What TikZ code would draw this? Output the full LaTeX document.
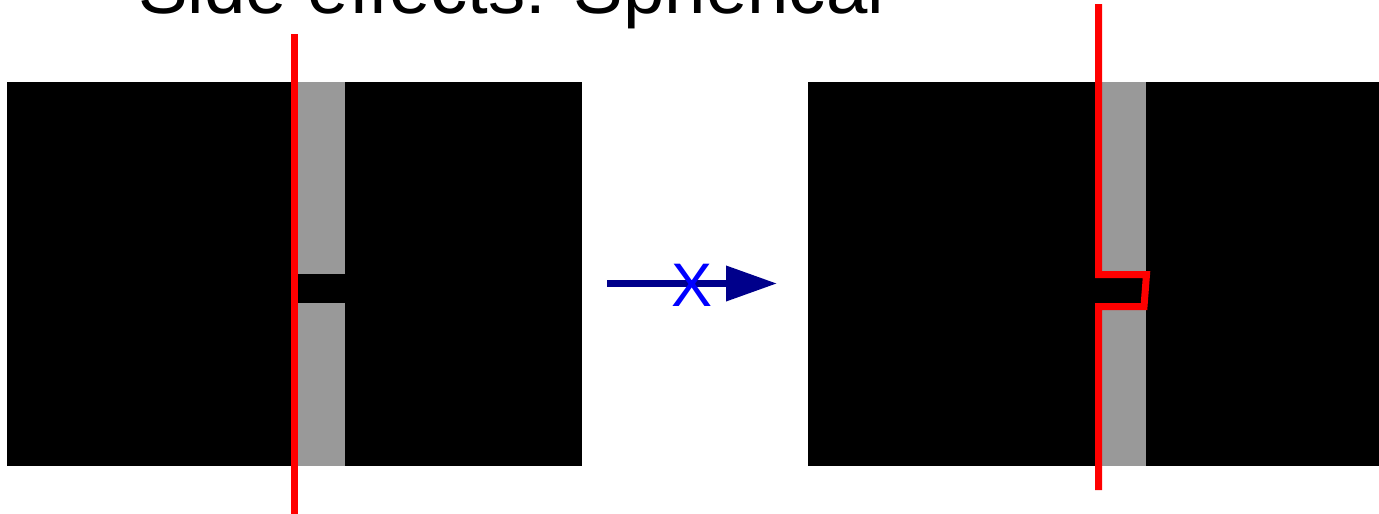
\documentclass[tikz,border=0pt]{standalone}
\usepackage{fontspec}
\setmainfont{Liberation Sans}
\usetikzlibrary{arrows.meta}
\definecolor{bandgray}{RGB}{153,153,153}
\definecolor{arrownavy}{RGB}{0,0,139}
\tikzset{
  blackblock/.style={fill=black},
  band/.style={fill=bandgray},
  cut/.style={draw=red, line width=7pt, line join=miter},
  flow/.style={draw=arrownavy, line width=7pt, -{Triangle[length=51pt,width=34pt]}},
}
\begin{document}
\begin{tikzpicture}[x=1pt,y=-1pt]
\useasboundingbox (0,0) rectangle (1379,514);
\clip (0,0) rectangle (1379,514);
% title
\node[anchor=base west, inner sep=0pt, font=\fontsize{74.4}{80}\selectfont] (title) at (138,13) {Side effects: Spherical};
% left block
\fill[blackblock] (7,82) rectangle (582,466);
\fill[band] (297,82) rectangle (345,274);
\fill[band] (297,303) rectangle (345,466);
\coordinate (ltop) at (294.5,34);
\coordinate (lbot) at (294.5,520);
\draw[cut] (ltop) -- (lbot);
% arrow
\coordinate (astart) at (607,283.5);
\coordinate (aend) at (777,283.5);
\draw[flow] (astart) -- (aend);
\node[text=blue, inner sep=0pt, font=\fontsize{61.5}{62}\selectfont] (xmark) at (692,285) {X};
% right block
\fill[blackblock] (808,82) rectangle (1379,466);
\fill[band] (1101,82) rectangle (1146,274);
\fill[band] (1101,306) rectangle (1146,466);
\coordinate (rtop) at (1098.5,4);
\coordinate (rc1) at (1098.5,274.5);
\coordinate (rc2) at (1146.5,274.5);
\coordinate (rc3) at (1144,306.5);
\coordinate (rc4) at (1098.5,306.5);
\coordinate (rbot) at (1098.5,490);
\draw[cut] (rtop) -- (rc1) -- (rc2) -- (rc3) -- (rc4) -- (rbot);
\end{tikzpicture}
\end{document}
